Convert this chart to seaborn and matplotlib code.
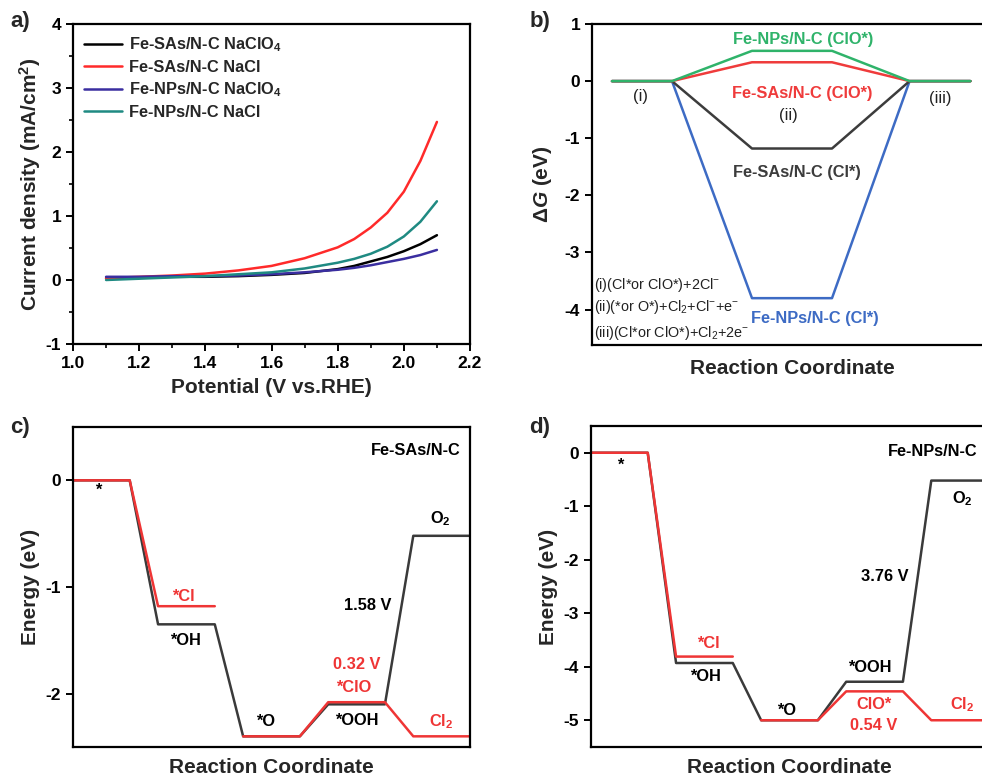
import numpy as np
import pandas as pd
import matplotlib
matplotlib.use("Agg")
import matplotlib.pyplot as plt
from matplotlib.ticker import MultipleLocator
import seaborn as sns

sns.set_theme(style="ticks")
plt.rcParams.update({
    "font.family": ["Liberation Sans", "DejaVu Sans"],
    "font.weight": "bold",
    "axes.labelweight": "bold",
    "axes.unicode_minus": False,
    "mathtext.fontset": "custom",
    "mathtext.default": "regular",
    "mathtext.rm": "Liberation Sans:bold",
    "mathtext.it": "Liberation Sans:italic:bold",
    "mathtext.bf": "Liberation Sans:bold",
    "axes.linewidth": 1.6,
    "xtick.major.width": 1.4,
    "ytick.major.width": 1.4,
    "xtick.minor.width": 1.2,
    "ytick.minor.width": 1.2,
    "xtick.color": "black",
    "ytick.color": "black",
    "axes.edgecolor": "black",
})

# ---------------- data ----------------
# panel a: LSV curves
potential = [1.1, 1.2, 1.3, 1.4, 1.5, 1.6, 1.7, 1.8, 1.85, 1.9, 1.95, 2.0, 2.05, 2.1]
sas_naclo4 = [0.03, 0.04, 0.05, 0.05, 0.06, 0.08, 0.11, 0.17, 0.22, 0.29, 0.36, 0.45, 0.56, 0.70]
sas_nacl = [0.03, 0.05, 0.07, 0.10, 0.15, 0.22, 0.34, 0.51, 0.64, 0.82, 1.05, 1.38, 1.86, 2.47]
nps_naclo4 = [0.05, 0.05, 0.06, 0.06, 0.07, 0.09, 0.12, 0.16, 0.19, 0.23, 0.28, 0.33, 0.39, 0.47]
nps_nacl = [0.00, 0.02, 0.04, 0.06, 0.09, 0.12, 0.18, 0.27, 0.33, 0.41, 0.52, 0.68, 0.91, 1.23]
series_a = ["Fe-SAs/N-C NaClO$_4$", "Fe-SAs/N-C NaCl", "Fe-NPs/N-C NaClO$_4$", "Fe-NPs/N-C NaCl"]
colors_a = ["#000000", "#ff2a2a", "#3a2ea0", "#1f8a82"]

# panel b: free energy of Cl/ClO pathways
b_coord = [0.0, 0.75, 1.75, 2.75, 3.72, 4.48]
b_series = ["Fe-NPs/N-C (Cl*)", "Fe-SAs/N-C (Cl*)", "Fe-SAs/N-C (ClO*)", "Fe-NPs/N-C (ClO*)"]
b_middle = [-3.80, -1.18, 0.33, 0.53]
b_colors = ["#3d6bc4", "#3c3c3c", "#ef3b3b", "#2fb36a"]

# panel c: Fe-SAs/N-C energy diagram
c_black = [0.0, -1.35, -2.40, -2.10, -0.52]
c_red_a = [0.0, -1.18]          # * -> *Cl
c_red_b = [-2.40, -2.08, -2.40]  # *O -> *ClO -> Cl2

# panel d: Fe-NPs/N-C energy diagram
d_black = [0.0, -3.93, -5.00, -4.28, -0.52]
d_red_a = [0.0, -3.81]
d_red_b = [-5.00, -4.46, -5.00]

GRAY = "#3a3a3a"
RED = "#ef3535"
TICK_FS = 12.5
LABEL_FS = 15
TEXT_FS = 11.8

W, H = 982, 778
fig = plt.figure(figsize=(W / 100, H / 100), dpi=100)


def ax_px(left, top, right, bottom):
    return fig.add_axes([left / W, 1 - bottom / H, (right - left) / W, (bottom - top) / H])


# ---------------- panel a ----------------
ax_a = ax_px(73, 24, 470, 344)
rows = []
for name, vals in zip(series_a, [sas_naclo4, sas_nacl, nps_naclo4, nps_nacl]):
    for v, j in zip(potential, vals):
        rows.append({"Potential": v, "J": j, "series": name})
df_a = pd.DataFrame(rows)
sns.lineplot(data=df_a, x="Potential", y="J", hue="series", hue_order=series_a,
             palette=dict(zip(series_a, colors_a)), linewidth=1.8, ax=ax_a)
ax_a.set_xlim(1.0, 2.2)
ax_a.set_ylim(-1, 4)
ax_a.xaxis.set_major_locator(MultipleLocator(0.2))
ax_a.xaxis.set_minor_locator(MultipleLocator(0.1))
ax_a.yaxis.set_major_locator(MultipleLocator(1))
ax_a.yaxis.set_minor_locator(MultipleLocator(0.5))
ax_a.tick_params(which="major", direction="out", length=5, labelsize=TICK_FS)
ax_a.tick_params(which="minor", direction="out", length=3)
for lab in ax_a.get_xticklabels() + ax_a.get_yticklabels():
    lab.set_fontweight("bold")
ax_a.set_xlabel("Potential (V vs.RHE)", fontsize=LABEL_FS, labelpad=5)
ax_a.set_ylabel("Current density (mA/cm$^2$)", fontsize=LABEL_FS, labelpad=2)
leg = ax_a.legend(loc="upper left", frameon=False, fontsize=TEXT_FS, handlelength=2.3,
                  borderaxespad=0.3, labelspacing=0.35, handletextpad=0.4)
for t in leg.get_texts():
    t.set_fontweight("bold")
for l in leg.get_lines():
    l.set_linewidth(1.8)

# ---------------- panel b ----------------
ax_b = ax_px(592, 24, 992, 345)
rows = []
for name, mid in zip(b_series, b_middle):
    for x, g in zip(b_coord, [0, 0, mid, mid, 0, 0]):
        rows.append({"x": x, "G": g, "series": name})
df_b = pd.DataFrame(rows)
sns.lineplot(data=df_b, x="x", y="G", hue="series", hue_order=b_series,
             palette=dict(zip(b_series, b_colors)), sort=False, estimator=None,
             linewidth=1.8, legend=False, ax=ax_b)
ax_b.set_xlim(-0.25, 4.75)
ax_b.set_ylim(-4.62, 1.0)
ax_b.set_xticks([])
ax_b.yaxis.set_major_locator(MultipleLocator(1))
ax_b.tick_params(axis="y", direction="out", length=5, labelsize=TICK_FS)
for lab in ax_b.get_yticklabels():
    lab.set_fontweight("bold")
ax_b.set_xlabel("Reaction Coordinate", fontsize=LABEL_FS, labelpad=10)
ax_b.set_ylabel(r"$\Delta\it{G}$ (eV)", fontsize=LABEL_FS, labelpad=8)
ax_b.text(2.39, 0.73, "Fe-NPs/N-C (ClO*)", color="#2fb36a", fontsize=TEXT_FS, ha="center", va="center")
ax_b.text(2.38, -0.22, "Fe-SAs/N-C (ClO*)", color="#ef3b3b", fontsize=TEXT_FS, ha="center", va="center")
ax_b.text(2.31, -1.60, "Fe-SAs/N-C (Cl*)", color="#3c3c3c", fontsize=TEXT_FS, ha="center", va="center")
ax_b.text(2.53, -4.15, "Fe-NPs/N-C (Cl*)", color="#3d6bc4", fontsize=TEXT_FS, ha="center", va="center")
ax_b.text(0.35, -0.27, "(i)", fontsize=12, fontweight="normal", ha="center", va="center", color="#222222")
ax_b.text(2.20, -0.61, "(ii)", fontsize=12, fontweight="normal", ha="center", va="center", color="#222222")
ax_b.text(4.10, -0.30, "(iii)", fontsize=12, fontweight="normal", ha="center", va="center", color="#222222")
notes = ["(i)(Cl*or ClO*)+2Cl$^{-}$",
         "(ii)(*or O*)+Cl$_2$+Cl$^{-}$+e$^{-}$",
         "(iii)(Cl*or ClO*)+Cl$_2$+2e$^{-}$"]
for y, s in zip([-3.57, -3.95, -4.41], notes):
    ax_b.text(-0.22, y, s, fontsize=10.4, fontweight="normal", ha="left", va="center", color="#222222")


# ---------------- panels c, d ----------------
def level_path(levels, start_index):
    xs, ys = [], []
    for k, e in enumerate(levels):
        i = start_index + k
        xs += [3 * i, 3 * i + 2]
        ys += [e, e]
    return xs, ys


def energy_panel(ax, black, red_a, red_b):
    rows = []
    for seg, (vals, start) in enumerate([(black, 0), (red_a, 0), (red_b, 2)]):
        xs, ys = level_path(vals, start)
        for x, y in zip(xs, ys):
            rows.append({"x": x, "E": y, "seg": seg, "kind": "OER" if seg == 0 else "CER"})
    df = pd.DataFrame(rows)
    sns.lineplot(data=df, x="x", y="E", hue="kind", hue_order=["OER", "CER"],
                 palette={"OER": GRAY, "CER": RED}, units="seg", estimator=None,
                 sort=False, linewidth=1.8, legend=False, ax=ax)
    ax.set_xlim(0, 14)
    ax.set_xticks([])
    ax.yaxis.set_major_locator(MultipleLocator(1))
    ax.tick_params(axis="y", direction="out", length=5, labelsize=TICK_FS)
    for lab in ax.get_yticklabels():
        lab.set_fontweight("bold")
    ax.set_xlabel("Reaction Coordinate", fontsize=LABEL_FS, labelpad=8)
    ax.set_ylabel("Energy (eV)", fontsize=LABEL_FS, labelpad=4)


ax_c = ax_px(73, 427, 470, 747)
energy_panel(ax_c, c_black, c_red_a, c_red_b)
ax_c.set_ylim(-2.5, 0.5)
fs = TEXT_FS
ax_c.text(0.88, -0.09, "*", fontsize=fs, ha="center", va="center", color="black")
ax_c.text(3.88, -1.09, "*Cl", fontsize=fs, ha="center", va="center", color=RED)
ax_c.text(3.95, -1.50, "*OH", fontsize=fs, ha="center", va="center", color="black")
ax_c.text(6.79, -2.26, "*O", fontsize=fs, ha="center", va="center", color="black")
ax_c.text(10.0, -2.25, "*OOH", fontsize=fs, ha="center", va="center", color="black")
ax_c.text(9.91, -1.94, "*ClO", fontsize=fs, ha="center", va="center", color=RED)
ax_c.text(10.02, -1.73, "0.32 V", fontsize=fs, ha="center", va="center", color=RED)
ax_c.text(10.39, -1.17, "1.58 V", fontsize=fs, ha="center", va="center", color="black")
ax_c.text(12.94, -0.36, "O$_2$", fontsize=fs, ha="center", va="center", color="black")
ax_c.text(13.0, -2.26, "Cl$_2$", fontsize=fs, ha="center", va="center", color=RED)
ax_c.text(12.1, 0.28, "Fe-SAs/N-C", fontsize=fs, ha="center", va="center", color="black")

ax_d = ax_px(591, 426, 988, 747)
energy_panel(ax_d, d_black, d_red_a, d_red_b)
ax_d.set_ylim(-5.5, 0.5)
ax_d.text(1.02, -0.23, "*", fontsize=fs, ha="center", va="center", color="black")
ax_d.text(4.14, -3.56, "*Cl", fontsize=fs, ha="center", va="center", color=RED)
ax_d.text(4.02, -4.19, "*OH", fontsize=fs, ha="center", va="center", color="black")
ax_d.text(6.90, -4.81, "*O", fontsize=fs, ha="center", va="center", color="black")
ax_d.text(9.84, -4.01, "*OOH", fontsize=fs, ha="center", va="center", color="black")
ax_d.text(9.98, -4.70, "ClO*", fontsize=fs, ha="center", va="center", color=RED)
ax_d.text(9.96, -5.10, "0.54 V", fontsize=fs, ha="center", va="center", color=RED)
ax_d.text(10.37, -2.31, "3.76 V", fontsize=fs, ha="center", va="center", color="black")
ax_d.text(13.1, -0.86, "O$_2$", fontsize=fs, ha="center", va="center", color="black")
ax_d.text(13.1, -4.70, "Cl$_2$", fontsize=fs, ha="center", va="center", color=RED)
ax_d.text(12.04, 0.02, "Fe-NPs/N-C", fontsize=fs, ha="center", va="center", color="black")

# panel letters
for s, x, y in [("a)", 20, 22), ("b)", 540, 22), ("c)", 20, 427), ("d)", 540, 427)]:
    fig.text(x / W, 1 - y / H, s, fontsize=16, fontweight="bold", ha="center", va="center")

fig.savefig("out.png", dpi=100)
